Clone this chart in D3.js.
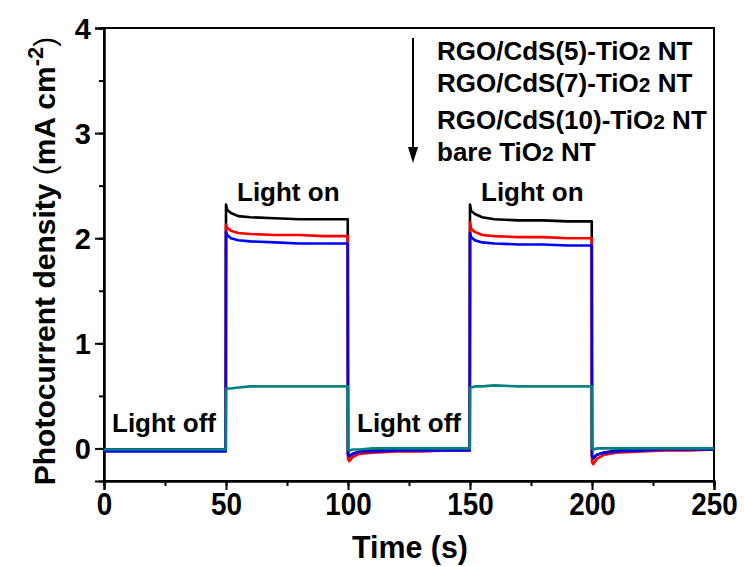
<!DOCTYPE html>
<html>
<head>
<meta charset="utf-8">
<script src="https://cdn.jsdelivr.net/npm/d3@7"></script>
<style>
  body { margin: 0; background: #fff; }
  text { font-family: "Liberation Sans", Arial, sans-serif; font-weight: bold; }
</style>
</head>
<body>
<svg id="chart" width="744" height="567"></svg>
<script>
// time points (s), values in mA cm-2
var times = [0, 10, 20, 30, 40, 49.9,
  50, 50.5, 52, 55, 60, 70, 80, 90, 99.9,
  100, 100.5, 102, 105, 110, 120, 130, 140, 149.9,
  150, 150.5, 152, 155, 160, 170, 180, 190, 199.9,
  200, 200.5, 202, 205, 210, 220, 230, 240, 250]

var cds5 = [-0.01, -0.01, -0.01, -0.01, -0.01, -0.01,
  2.32, 2.27, 2.24, 2.21, 2.20, 2.19, 2.18, 2.18, 2.18,
  -0.06, -0.08, -0.05, -0.03, -0.02, -0.01, -0.01, -0.01, -0.01,
  2.32, 2.26, 2.23, 2.20, 2.18, 2.17, 2.17, 2.16, 2.16,
  -0.08, -0.10, -0.06, -0.04, -0.02, -0.01, -0.01, -0.01, -0.01]

var cds7 = [-0.02, -0.02, -0.02, -0.02, -0.02, -0.02,
  2.13, 2.10, 2.07, 2.05, 2.04, 2.03, 2.03, 2.02, 2.02,
  -0.10, -0.12, -0.08, -0.05, -0.04, -0.03, -0.03, -0.02, -0.02,
  2.15, 2.09, 2.06, 2.03, 2.02, 2.01, 2.01, 2.00, 2.00,
  -0.13, -0.15, -0.10, -0.06, -0.04, -0.03, -0.02, -0.02, -0.01]

var cds10 = [-0.03, -0.03, -0.03, -0.03, -0.03, -0.03,
  2.06, 2.03, 2.00, 1.98, 1.97, 1.96, 1.95, 1.95, 1.95,
  -0.06, -0.07, -0.05, -0.03, -0.03, -0.02, -0.02, -0.02, -0.02,
  2.05, 2.01, 1.98, 1.96, 1.95, 1.94, 1.94, 1.93, 1.93,
  -0.07, -0.09, -0.06, -0.04, -0.03, -0.02, -0.01, -0.01, -0.01]

var bare = [-0.01, -0.01, -0.01, -0.01, -0.01, -0.01,
  0.57, 0.57, 0.57, 0.58, 0.59, 0.59, 0.59, 0.59, 0.59,
  -0.01, -0.02, -0.01, -0.01, 0.00, 0.00, 0.00, 0.00, 0.00,
  0.58, 0.58, 0.59, 0.59, 0.60, 0.59, 0.59, 0.59, 0.59,
  0.00, -0.01, 0.00, 0.00, 0.00, 0.00, 0.00, 0.00, 0.00]

var seriesNames = ["RGO/CdS(5)-TiO", "RGO/CdS(7)-TiO", "RGO/CdS(10)-TiO", "bare TiO"]
var seriesColors = ["#000000", "#ff0000", "#0000ff", "#008080"]
var seriesValues = [cds5, cds7, cds10, bare]

var xTicks = [0, 50, 100, 150, 200, 250]
var yTicks = [0, 1, 2, 3, 4]

var marginLeft = 104
var marginTop = 28
var plotRight = 714
var plotBottom = 481

var x = d3.scaleLinear().domain([0, 250]).range([marginLeft, plotRight])
var y = d3.scaleLinear().domain([-0.31, 4]).range([plotBottom, marginTop])

var svg = d3.select("#chart")

// frame
svg.append("rect")
   .attr("x", marginLeft).attr("y", marginTop)
   .attr("width", plotRight - marginLeft).attr("height", plotBottom - marginTop)
   .attr("fill", "none").attr("stroke", "#000").attr("stroke-width", 2)

// minor ticks, then major ticks with labels
svg.append("g")
   .attr("transform", "translate(0," + plotBottom + ")")
   .call(d3.axisBottom(x).tickValues(d3.range(0, 251, 25)).tickSize(5).tickFormat(""))
var gxMajor = svg.append("g")
   .attr("transform", "translate(0," + plotBottom + ")")
   .call(d3.axisBottom(x).tickValues(xTicks).tickSize(9).tickPadding(3).tickFormat(d3.format("d")))
svg.append("g")
   .attr("transform", "translate(" + marginLeft + ",0)")
   .call(d3.axisLeft(y).tickValues(d3.range(0, 4.01, 0.5)).tickSize(5).tickFormat(""))
var gyMajor = svg.append("g")
   .attr("transform", "translate(" + marginLeft + ",0)")
   .call(d3.axisLeft(y).tickValues(yTicks).tickSize(9).tickPadding(4).tickFormat(d3.format("d")))

svg.selectAll(".domain").attr("stroke-width", 2)
svg.selectAll(".tick line").attr("stroke-width", 2)

// condensed look of the x tick labels
gxMajor.selectAll("text")
       .attr("font-size", 31)
       .style("font-weight", "bold")
       .attr("fill", "#000")
       .attr("textLength", d => String(d).length * 15.5)
       .attr("lengthAdjust", "spacingAndGlyphs")
gyMajor.selectAll("text")
       .attr("font-size", 29)
       .style("font-weight", "bold")
       .attr("fill", "#000")
       .attr("dy", "0.36em")

// axis titles
svg.append("text")
   .attr("x", 352).attr("y", 558)
   .attr("font-size", 31)
   .attr("textLength", 116)
   .attr("lengthAdjust", "spacingAndGlyphs")
   .text("Time (s)")

var yTitle = svg.append("text")
   .attr("transform", "translate(55,261) rotate(-90)")
   .attr("text-anchor", "middle")
   .attr("font-size", 30)
yTitle.append("tspan").text("Photocurrent density ")
yTitle.append("tspan").style("font-weight", "normal").text("(")
yTitle.append("tspan").text("mA cm")
yTitle.append("tspan").attr("dy", -12).attr("font-size", 22).text("-2")
yTitle.append("tspan").attr("dy", 12).style("font-weight", "normal").text(")")

// curves
var line = d3.line()
             .x((d, i) => x(times[i]))
             .y(d => y(d))

seriesValues.forEach(function(vals, k) {
  svg.append("path")
     .datum(vals)
     .attr("d", line)
     .attr("fill", "none")
     .attr("stroke", seriesColors[k])
     .attr("stroke-width", 2.6)
     .attr("stroke-linejoin", "round")
})

// annotations
var notes = [["Light on", 237, 201], ["Light on", 481, 201], ["Light off", 112, 432], ["Light off", 357, 432]]
notes.forEach(function(n) {
  svg.append("text").attr("x", n[1]).attr("y", n[2]).attr("font-size", 26).text(n[0])
})

// legend
var legendY = [60, 92, 129, 161]
seriesNames.forEach(function(name, k) {
  var t = svg.append("text").attr("x", 437).attr("y", legendY[k]).attr("font-size", 26)
  t.append("tspan").text(name)
  t.append("tspan").attr("font-size", 21).text("2")
  t.append("tspan").text(" NT")
})

svg.append("line")
   .attr("x1", 413).attr("x2", 413).attr("y1", 38).attr("y2", 150)
   .attr("stroke", "#000").attr("stroke-width", 2)
svg.append("path")
   .attr("d", "M408,147 L418,147 L413,163 Z")
   .attr("fill", "#000")
</script>
</body>
</html>
